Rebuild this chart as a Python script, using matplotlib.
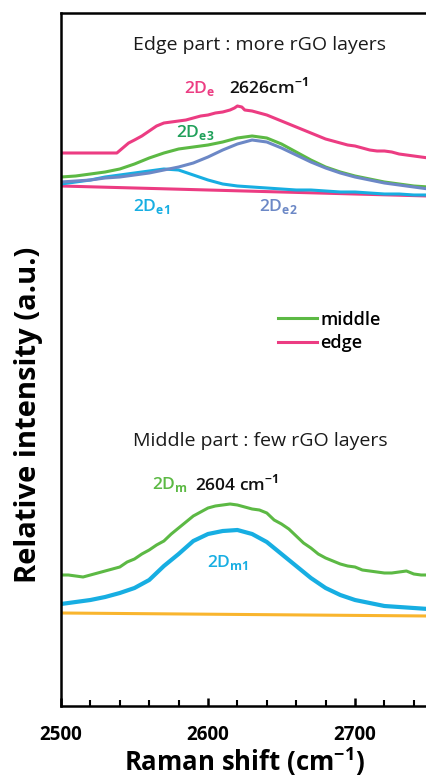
import numpy as np
import matplotlib
matplotlib.use('Agg')
import matplotlib.pyplot as plt
from matplotlib.ticker import MultipleLocator

plt.rcParams['font.family'] = ['Open Sans', 'DejaVu Sans']
plt.rcParams['mathtext.fontset'] = 'custom'
plt.rcParams['mathtext.rm'] = 'Open Sans'
plt.rcParams['mathtext.bf'] = 'Open Sans:bold'

# ---- data (Raman shift cm-1, relative intensity a.u.) ----
# edge spectrum (measured)
edge_x = [2500, 2505, 2510, 2515, 2520, 2525, 2530, 2535, 2538, 2542, 2546, 2550, 2555,
          2560, 2565, 2570, 2575, 2580, 2585, 2590, 2595, 2600, 2605, 2610, 2615, 2618,
          2620, 2623, 2625, 2630, 2635, 2640, 2645, 2650, 2655, 2660, 2665, 2670, 2675,
          2680, 2685, 2690, 2695, 2700, 2705, 2710, 2715, 2720, 2725, 2730, 2735, 2740,
          2745, 2750]
edge_y = [553, 553, 553, 553, 553, 553, 553, 553, 553, 558, 563, 566, 570,
          575, 580, 583, 584, 585, 586, 588, 590, 591, 593, 594, 596, 598,
          600, 599, 596, 595, 593, 591, 588, 585, 582, 579, 576, 573, 570,
          567, 565, 563, 561, 560, 558, 556, 555, 555, 554, 552, 551, 550,
          549, 548]

# edge fit components
fit_x = [2500, 2510, 2520, 2530, 2540, 2550, 2560, 2570, 2580, 2590, 2600, 2610, 2620,
         2630, 2640, 2650, 2660, 2670, 2680, 2690, 2700, 2710, 2720, 2730, 2740, 2750]
de3_y = [529, 530, 532, 534, 537, 542, 548, 553, 557, 559, 561, 564, 568,
         570, 568, 562, 554, 546, 539, 534, 530, 527, 524, 522, 520, 519]
de2_y = [524, 525, 526, 528, 529, 531, 533, 536, 539, 543, 549, 556, 562,
         566, 564, 558, 551, 544, 538, 533, 529, 526, 523, 521, 519, 517]
de1_y = [522, 524, 526, 529, 531, 533, 535, 537, 536, 531, 526, 522, 520,
         519, 518, 517, 516, 516, 515, 514, 514, 513, 512, 512, 511, 511]
edge_base_x = [2500, 2750]
edge_base_y = [520, 510]

# middle spectrum (measured)
mid_x = [2500, 2505, 2510, 2515, 2520, 2525, 2530, 2535, 2540, 2545, 2550, 2555, 2560,
         2565, 2570, 2575, 2580, 2585, 2590, 2595, 2600, 2605, 2610, 2615, 2620, 2625,
         2630, 2635, 2640, 2645, 2650, 2655, 2660, 2665, 2670, 2675, 2680, 2685, 2690,
         2695, 2700, 2705, 2710, 2715, 2720, 2725, 2730, 2735, 2740, 2745, 2750]
mid_y = [131, 131, 130, 129, 131, 133, 135, 137, 139, 144, 147, 152, 156,
         161, 165, 172, 178, 184, 190, 194, 198, 200, 201, 202, 201, 199,
         197, 196, 193, 186, 182, 177, 170, 163, 158, 152, 148, 145, 142,
         140, 139, 136, 135, 134, 133, 133, 134, 135, 132, 131, 131]

# middle fit component
dm1_y = [102, 104, 106, 109, 113, 118, 126, 140, 152, 165, 172, 175, 176,
         172, 164, 152, 140, 128, 118, 111, 106, 103, 100, 99, 98, 97]
mid_base_x = [2500, 2750]
mid_base_y = [93, 90]

xticks = [2500, 2600, 2700]

pink = '#ec3c82'
green = '#5cb944'
cyan = '#17aee2'
slate = '#6c88c6'
orange = '#f9b52e'

fig = plt.figure(figsize=(4.26, 7.77), dpi=100)
ax = fig.add_axes([61/426, 71/777, 441/426, 693/777])

ax.plot(edge_base_x, edge_base_y, color=pink, lw=2.2)
ax.plot(fit_x, de1_y, color=cyan, lw=2.2)
ax.plot(fit_x, de3_y, color=green, lw=2.2)
ax.plot(fit_x, de2_y, color=slate, lw=2.2)
l_edge, = ax.plot(edge_x, edge_y, color=pink, lw=2.2, label='edge')

ax.plot(mid_base_x, mid_base_y, color=orange, lw=2.2)
ax.plot(fit_x, dm1_y, color=cyan, lw=3.0)
l_mid, = ax.plot(mid_x, mid_y, color=green, lw=2.2, label='middle')

ax.set_xlim(2500, 2800)
ax.set_ylim(0, 693)
ax.set_yticks([])
ax.set_xticks(xticks)
ax.xaxis.set_minor_locator(MultipleLocator(20))
ax.tick_params(axis='x', which='major', direction='in', length=6, width=1.8,
               pad=14, labelsize=13.5)
ax.tick_params(axis='x', which='minor', direction='in', length=4, width=1.5)
for lab in ax.get_xticklabels():
    lab.set_fontweight('bold')
for s in ax.spines.values():
    s.set_linewidth(1.8)

ax.set_xlabel(r'Raman shift (cm$^{\mathbf{-1}}$)', fontsize=18.5, fontweight='bold')
ax.xaxis.set_label_coords((245 - 61) / 441, -0.057)
ax.set_ylabel('Relative intensity (a.u.)', fontsize=21, fontweight='bold')
ax.yaxis.set_label_coords(-0.041, (706 - 415) / 693)

tkw = dict(ha='left', va='center', fontweight='semibold')
ax.text(2549, 661, 'Edge part : more rGO layers', fontsize=14, color='#1a1a1a',
        ha='left', va='center')
ax.text(2584, 618, r'2D$_\mathbf{e}$', fontsize=12.5, color=pink, **tkw)
ax.text(2614, 618, r'2626cm$^{\mathbf{-1}}$', fontsize=12.5, color='#111111', **tkw)
ax.text(2578, 574, r'2D$_\mathbf{e3}$', fontsize=12.5, color='#1fa05a', **tkw)
ax.text(2549, 499, r'2D$_\mathbf{e1}$', fontsize=12.5, color=cyan, **tkw)
ax.text(2635, 499, r'2D$_\mathbf{e2}$', fontsize=12.5, color=slate, **tkw)

ax.text(2549, 265, 'Middle part : few rGO layers', fontsize=14, color='#1a1a1a',
        ha='left', va='center')
ax.text(2562, 221, r'2D$_\mathbf{m}$', fontsize=12.5, color=green, **tkw)
ax.text(2591, 221, r'2604 cm$^{\mathbf{-1}}$', fontsize=12.5, color='#111111', **tkw)
ax.text(2599, 143, r'2D$_\mathbf{m1}$', fontsize=12.5, color=cyan, **tkw)

ax.legend(handles=[l_mid, l_edge], loc='upper left',
          bbox_to_anchor=((265 - 61) / 441, (706 - 298) / 693),
          frameon=False, handlelength=2.2, handletextpad=0.15,
          labelspacing=0.3, borderpad=0.2, prop={'weight': 'semibold', 'size': 13})

fig.savefig('out.png', dpi=100)
